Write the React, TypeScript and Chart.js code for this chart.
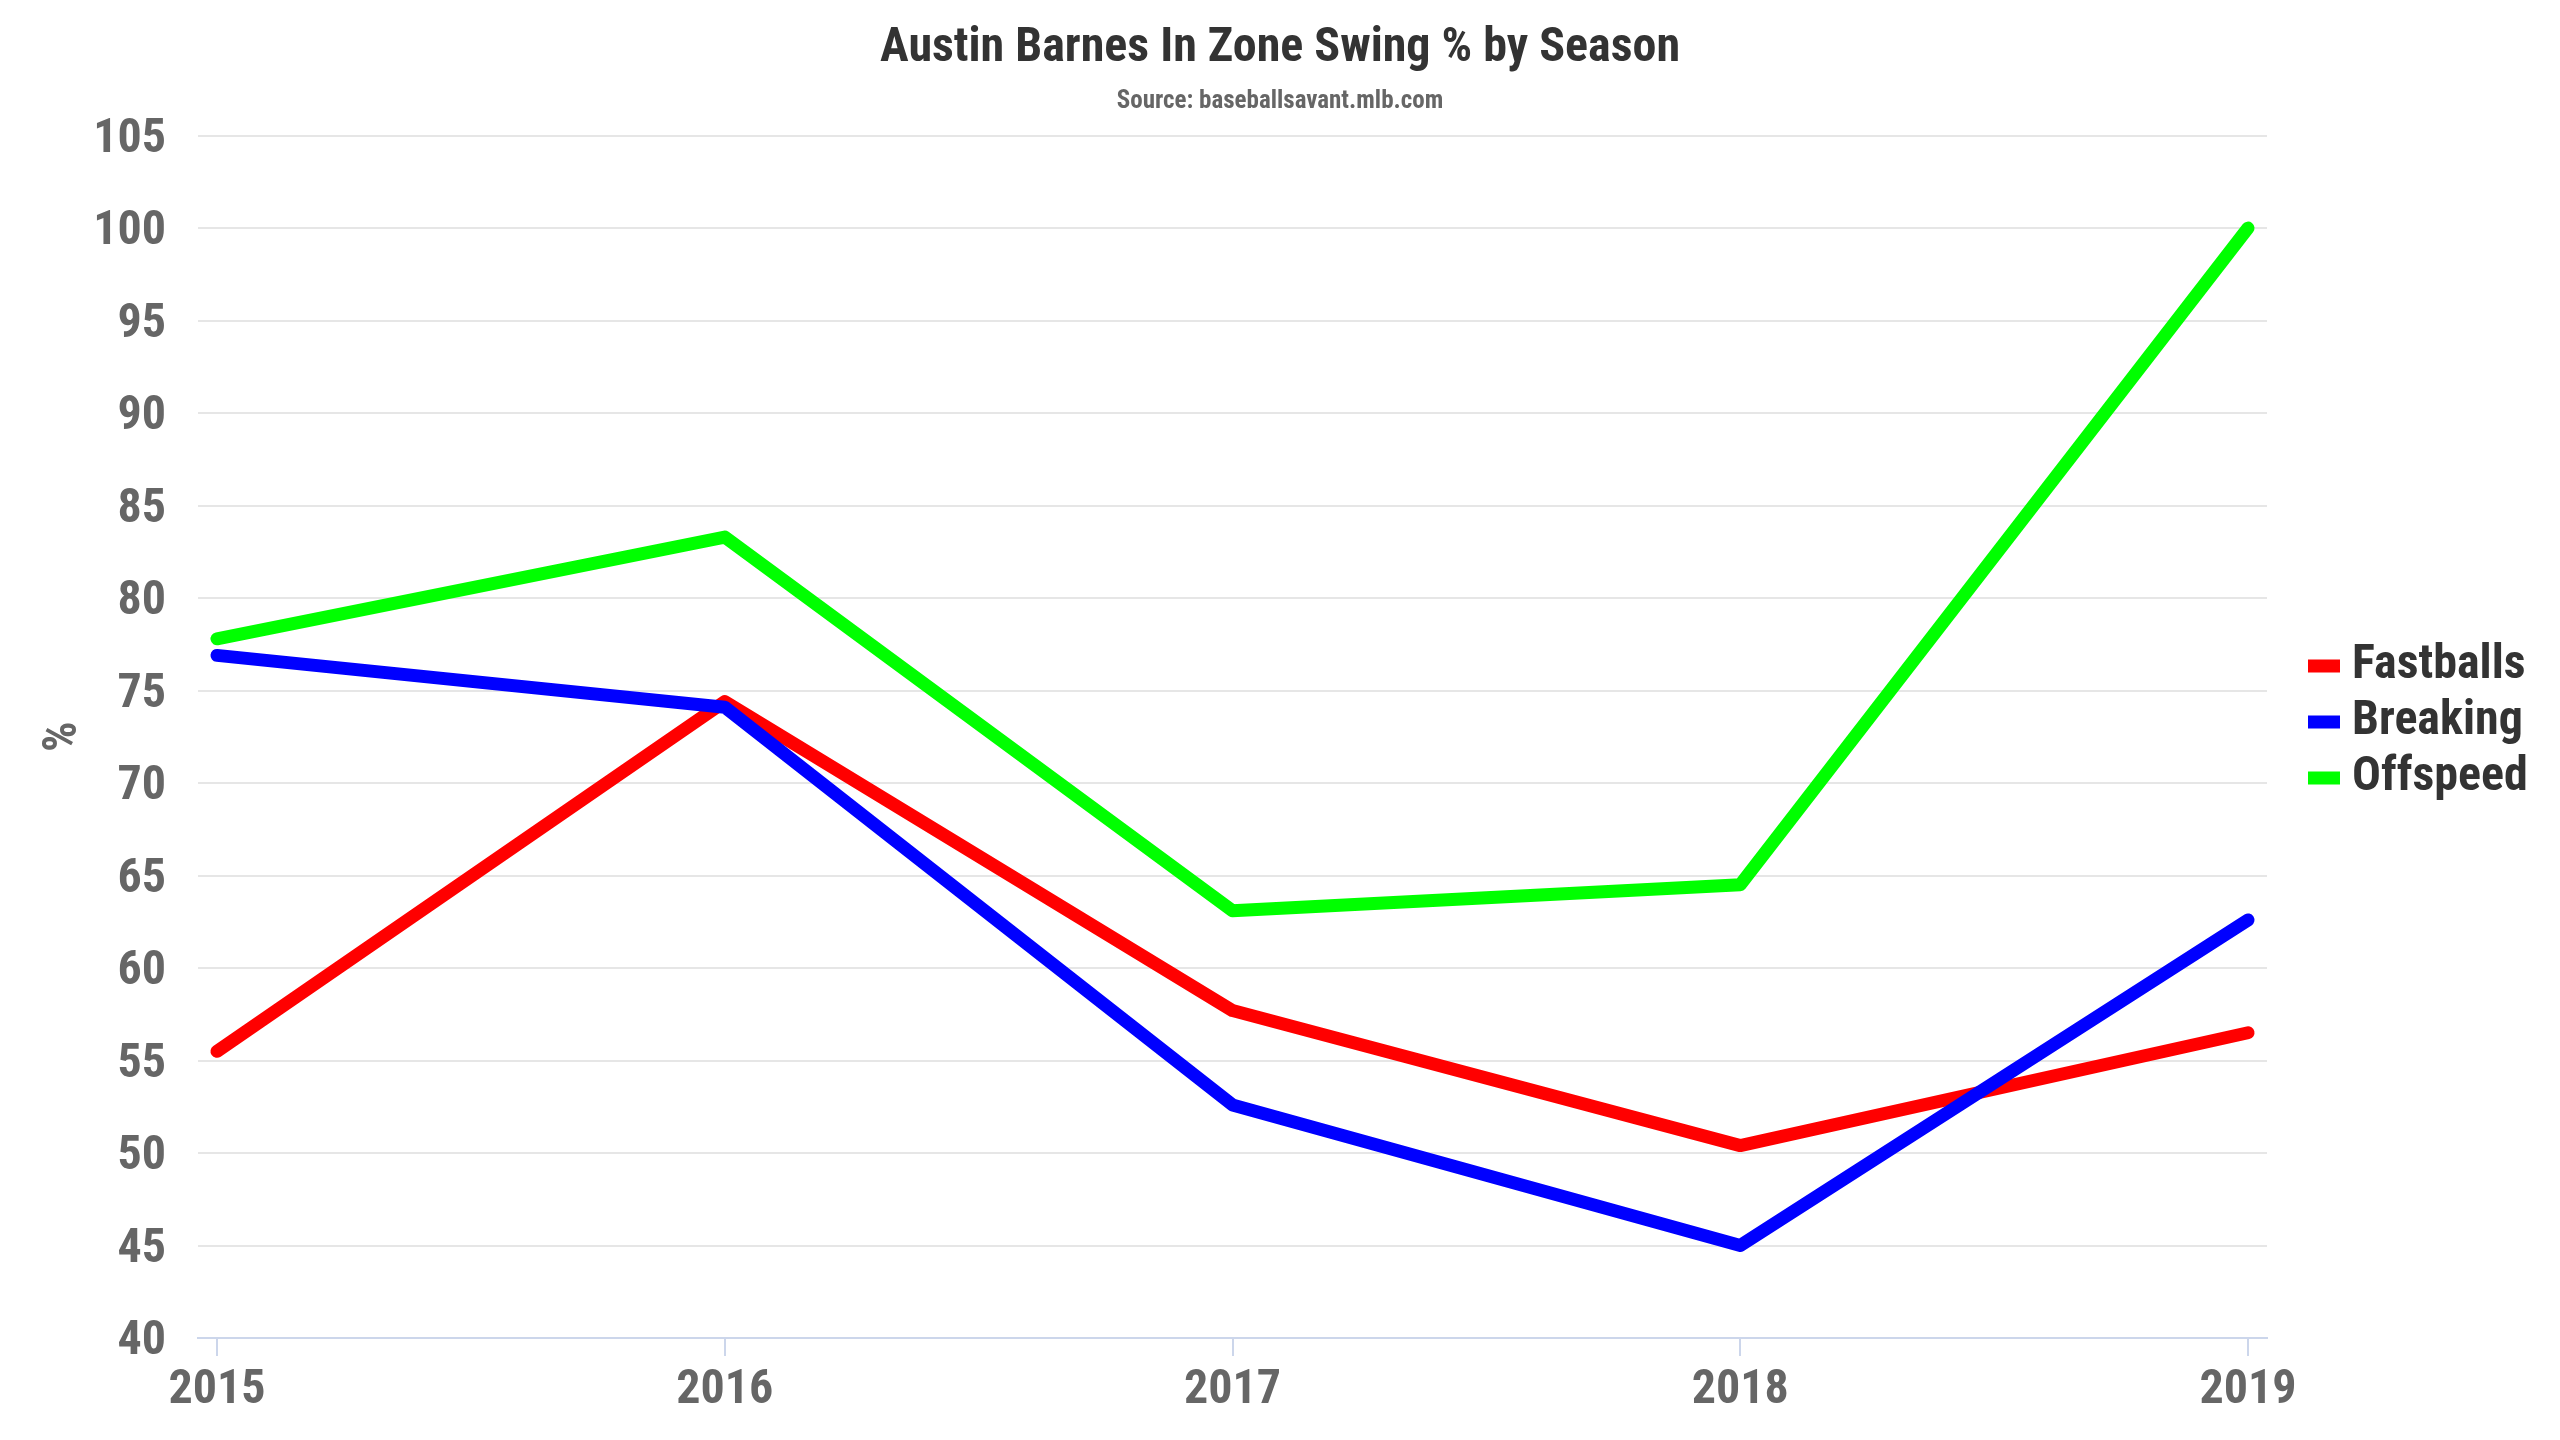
import React, { useEffect, useRef } from "react";
import { Chart, registerables } from "chart.js";

Chart.register(...registerables);

// ---- data ----
const years = [2015, 2016, 2017, 2018, 2019];
const fastballs = [55.5, 74.4, 57.7, 50.4, 56.5];
const breaking = [76.9, 74.1, 52.6, 45.0, 62.6];
const offspeed = [77.8, 83.3, 63.1, 64.5, 100];
const seriesNames = ["Fastballs", "Breaking", "Offspeed"];
const seriesColors = ["#ff0000", "#0000ff", "#00ff00"];
const titleText = "Austin Barnes In Zone Swing % by Season";
const subtitleText = "Source: baseballsavant.mlb.com";
const yAxisTitle = "%";
const yMin = 40;
const yMax = 105;
const yStep = 5;

const FONT =
  "'Liberation Sans Narrow', 'Roboto Condensed', 'DejaVu Sans Condensed', Roboto, sans-serif";

const legendPlugin = {
  id: "customLegend",
  afterDraw(chart: any) {
    const ctx = chart.ctx;
    const x0 = chart.chartArea.right + 41;
    const cy = chart.height / 2 + 2;
    const gap = 56;
    ctx.save();
    chart.data.datasets.forEach((ds: any, i: number) => {
      const y = cy + (i - 1) * gap;
      ctx.fillStyle = ds.borderColor;
      ctx.fillRect(x0, y - 6.5, 32, 13);
      ctx.fillStyle = "#333333";
      ctx.font = `bold 48px ${FONT}`;
      ctx.textBaseline = "middle";
      ctx.textAlign = "left";
      ctx.fillText(ds.label, x0 + 44, y);
    });
    ctx.restore();
  },
};

export default function App() {
  const canvasRef = useRef<HTMLCanvasElement | null>(null);

  useEffect(() => {
    document.body.style.margin = "0";
    const canvas = canvasRef.current;
    if (!canvas) return;
    const seriesData = [fastballs, breaking, offspeed];
    const chart = new Chart(canvas, {
      type: "line",
      data: {
        datasets: seriesData.map((vals, i) => ({
          label: seriesNames[i],
          data: years.map((yr, j) => ({ x: yr, y: vals[j] })),
          borderColor: seriesColors[i],
          backgroundColor: seriesColors[i],
          borderWidth: 13,
          borderCapStyle: "round",
          borderJoinStyle: "round",
          pointRadius: 0,
          pointHoverRadius: 0,
          tension: 0,
          fill: false,
          order: seriesData.length - i,
        })),
      },
      options: {
        responsive: false,
        animation: false,
        devicePixelRatio: 1,
        layout: { padding: 0 },
        plugins: {
          legend: { display: false },
          tooltip: { enabled: false },
          title: {
            display: true,
            text: titleText,
            color: "#333333",
            font: { family: FONT, size: 48, weight: "bold" },
            padding: { top: 20, bottom: 0 },
          },
          subtitle: {
            display: true,
            text: subtitleText,
            color: "#666666",
            font: { family: FONT, size: 25, weight: "bold" },
            padding: { top: 9, bottom: 19 },
          },
        },
        scales: {
          x: {
            type: "linear",
            position: "bottom",
            min: years[0] - 0.0374,
            max: years[years.length - 1] + 0.0374,
            afterBuildTicks: (scale: any) => {
              scale.ticks = years.map((v) => ({ value: v }));
            },
            afterFit: (scale: any) => {
              scale.height = 102;
            },
            grid: {
              display: true,
              drawOnChartArea: false,
              drawTicks: true,
              tickLength: 18,
              color: "#ccd6eb",
              lineWidth: 2,
            },
            border: { display: true, color: "#ccd6eb", width: 2 },
            ticks: {
              color: "#666666",
              font: { family: FONT, size: 48, weight: "bold" },
              padding: 6,
              maxRotation: 0,
              autoSkip: false,
              callback: (v: any) => String(v),
            },
          },
          y: {
            type: "linear",
            position: "left",
            min: yMin,
            max: yMax,
            afterFit: (scale: any) => {
              scale.width = 198;
            },
            grid: {
              drawTicks: false,
              color: (c: any) =>
                c.tick && c.tick.value === yMin ? "rgba(0,0,0,0)" : "#e6e6e6",
              lineWidth: 2,
            },
            border: { display: false },
            ticks: {
              stepSize: yStep,
              color: "#666666",
              font: { family: FONT, size: 48, weight: "bold" },
              padding: 32,
              labelOffset: 4,
            },
            title: {
              display: true,
              text: yAxisTitle,
              color: "#666666",
              font: { family: FONT, size: 48, weight: "bold" },
              padding: { top: 35, bottom: 0 },
            },
          },
          yRight: {
            type: "linear",
            position: "right",
            display: true,
            afterFit: (scale: any) => {
              scale.width = 293;
            },
            grid: { display: false, drawOnChartArea: false },
            border: { display: false },
            ticks: { display: false },
          },
        },
      },
      plugins: [legendPlugin],
    } as any);
    return () => chart.destroy();
  }, []);

  return (
    <div style={{ position: "absolute", left: 0, top: 0, width: 2560, height: 1440, background: "#ffffff" }}>
      <canvas ref={canvasRef} width={2560} height={1440} style={{ width: 2560, height: 1440, display: "block" }} />
    </div>
  );
}
